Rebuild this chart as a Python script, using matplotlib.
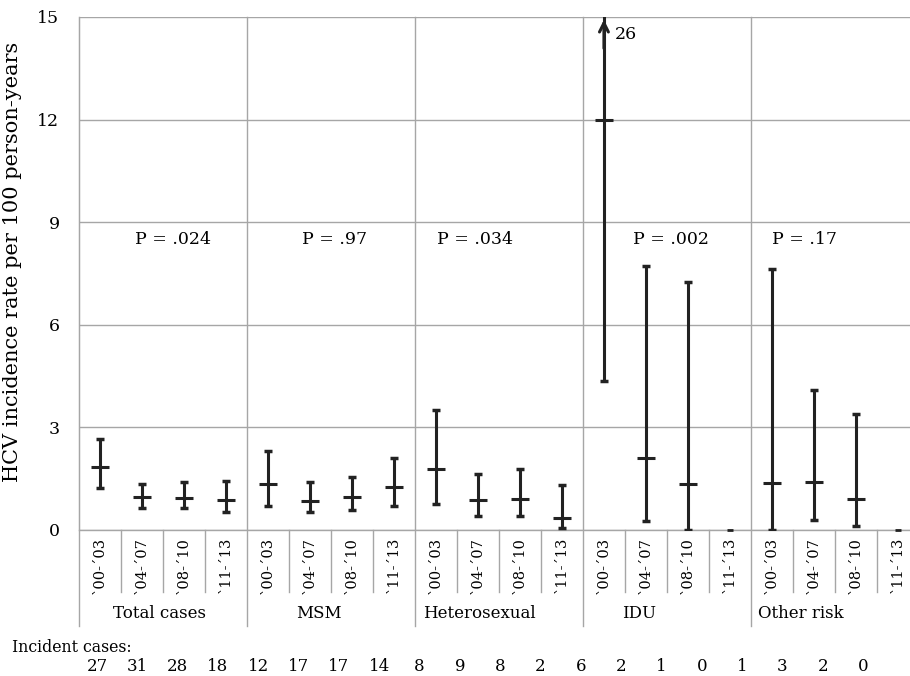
import numpy as np
import matplotlib.pyplot as plt

plt.rcParams['font.family'] = ['DejaVu Serif']

groups = ["Total cases", "MSM", "Heterosexual", "IDU", "Other risk"]
periods = ["`00-´03", "`04-´07", "`08-´10", "`11-´13"]
p_values = ["P = .024", "P = .97", "P = .034", "P = .002", "P = .17"]

# incidence rate per 100 person-years, with 95% CI
rate = np.array([1.85, 0.96, 0.93, 0.88,
                 1.34, 0.85, 0.96, 1.27,
                 1.78, 0.87, 0.90, 0.34,
                 12.0, 2.11, 1.34, 0.0,
                 1.36, 1.41, 0.90, 0.0])
lower = np.array([1.22, 0.64, 0.63, 0.52,
                  0.69, 0.52, 0.58, 0.69,
                  0.76, 0.41, 0.41, 0.05,
                  4.36, 0.26, 0.0, 0.0,
                  0.0, 0.29, 0.12, 0.0])
upper = np.array([2.66, 1.34, 1.39, 1.43,
                  2.32, 1.39, 1.54, 2.11,
                  3.50, 1.65, 1.79, 1.32,
                  26.0, 7.72, 7.25, 0.0,
                  7.63, 4.08, 3.40, 0.0])
cases = [27, 31, 28, 18, 12, 17, 17, 14, 8, 9, 8, 2, 6, 2, 1, 0, 1, 3, 2, 0]

dark = '#222222'
gray = '#a6a6a6'
ymax = 15

fig = plt.figure(figsize=(9.1, 6.76), dpi=100)
ax = fig.add_axes([0.0868, 0.216, 0.923, 0.759])

n = len(rate)
x = np.arange(n) + 0.5
ax.set_xlim(0, n)
ax.set_ylim(0, ymax)
ax.set_yticks([0, 3, 6, 9, 12, 15])
ax.set_xticks([])
ax.grid(axis='y', color=gray, lw=1)
ax.set_axisbelow(True)
for s in ['top', 'right', 'bottom']:
    ax.spines[s].set_visible(False)
ax.spines['left'].set_color(gray)
ax.tick_params(axis='y', length=0, pad=14, labelsize=12.5)
ax.axhline(0, color=gray, lw=1, clip_on=False)
ax.set_ylabel("HCV incidence rate per 100 person-years", fontsize=15)
ax.yaxis.set_label_coords(-0.068, 0.522)

nz = rate > 0
ax.errorbar(x[nz], rate[nz], yerr=[rate[nz] - lower[nz], upper[nz] - rate[nz]],
            fmt='none', ecolor=dark, elinewidth=2.2, capsize=3, capthick=2.5)
ax.plot(x[nz], rate[nz], ls='none', marker='_', ms=13, mew=2.2, color=dark)
ax.plot(x[~nz], rate[~nz], ls='none', marker='_', ms=4, mew=2, color=dark, clip_on=False)

# arrow for the clipped IDU upper bound
i_top = int(np.argmax(upper))
ax.annotate('', xy=(x[i_top], ymax), xytext=(x[i_top], ymax - 1),
            arrowprops=dict(arrowstyle='->', color=dark, lw=2.2, mutation_scale=16))
ax.text(x[i_top] + 0.25, ymax - 0.5, f"{upper[i_top]:.0f}", fontsize=12.5, va='center')

# group dividers and period dividers below the axis
ng = len(groups)
per = len(periods)
for g in range(ng + 1):
    ax.plot([g * per, g * per], [-2.8, ymax], color=gray, lw=1, clip_on=False)
for g in range(ng):
    for k in range(1, per):
        ax.plot([g * per + k] * 2, [0, -1.8], color=gray, lw=1, clip_on=False)

for i in range(n):
    ax.text(x[i], -0.2, periods[i % per], rotation=90, ha='center', va='top',
            fontsize=10.5)

group_x = [0.81, 5.17, 8.19, 12.93, 16.17]
p_x = [1.33, 5.31, 8.52, 13.2, 16.5]
for g in range(ng):
    ax.text(group_x[g], -2.43, groups[g], ha='left', va='center', fontsize=12)
    ax.text(p_x[g], 8.48, p_values[g], ha='left', va='center', fontsize=12.5)

fig.text(12 / 910, 1 - 647 / 676, "Incident cases:", ha='left', va='center', fontsize=11.3)
for i, c in enumerate(cases):
    ax.text(0.43 + i * 0.96, -3.98, str(c), ha='center', va='center', fontsize=12)

fig.savefig('out.png', dpi=100)
